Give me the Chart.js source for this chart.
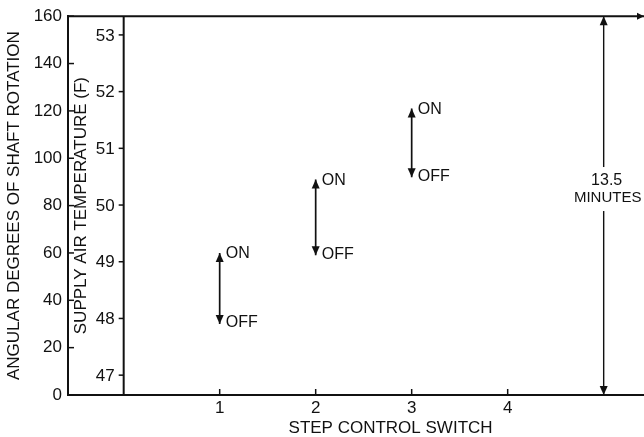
<!DOCTYPE html>
<html>
<head>
<meta charset="utf-8">
<script src="https://cdn.jsdelivr.net/npm/chart.js@4.4.1/dist/chart.umd.min.js"></script>
<style>
    html, body { margin: 0; padding: 0; background: #fff; }
</style>
</head>
<body>
<canvas id="chart" width="644" height="437"></canvas>
<script>
/* --- Values --- */
var steps = [1, 2, 3];
var onDegrees = [60, 91, 121];
var offDegrees = [30, 59, 92];
var stateLabels = ["ON", "OFF"];
var stepTicks = [1, 2, 3, 4];
var stepRange = [-0.58, 5.42];
var degreeRange = [0, 160];
var tempTicks = [47, 48, 49, 50, 51, 52, 53];
var tempRange = [46.65, 53.33];
var cycleStep = 5;
var cycleSpan = [160, 0];
var cycleLabel = ["13.5", "MINUTES"];
var cycleLabelAt = 87;
var stepTitleAt = 2.78;

var INK = "#111";
var FONT = "'Liberation Sans', Arial, sans-serif";

Chart.defaults.font.family = FONT;
Chart.defaults.color = INK;

/* --- Datasets: one vertical arrow per switch step, plus the cycle bracket --- */
var datasets = steps.map(function (s, i) {
    return {
        label: "step " + s,
        data: [{ x: s, y: onDegrees[i] }, { x: s, y: offDegrees[i] }],
        borderColor: INK,
        borderWidth: 1.7,
        pointRadius: 0,
        clip: false,
        yAxisID: "y"
    };
});
datasets.push({
    label: "cycle",
    data: [{ x: cycleStep, y: cycleSpan[0] }, { x: cycleStep, y: cycleSpan[1] }],
    borderColor: INK,
    borderWidth: 1.4,
    pointRadius: 0,
    clip: false,
    yAxisID: "y"
});

function line(ctx, x1, y1, x2, y2) {
    ctx.beginPath();
    ctx.moveTo(x1, y1);
    ctx.lineTo(x2, y2);
    ctx.stroke();
}

// filled arrowhead with its tip at (x, y); dir -1 points up, 1 points down
function head(ctx, x, y, dir) {
    ctx.beginPath();
    ctx.moveTo(x, y);
    ctx.lineTo(x - 4, y - dir * 9);
    ctx.lineTo(x + 4, y - dir * 9);
    ctx.closePath();
    ctx.fill();
}

/* --- Frame, inner temperature axis, arrowheads and text --- */
var overlay = {
    id: "overlay",
    afterDraw: function (chart) {
        var ctx = chart.ctx;
        var a = chart.chartArea;
        var xs = chart.scales.x, ys = chart.scales.y, ts = chart.scales.t;

        ctx.save();
        ctx.strokeStyle = INK;
        ctx.fillStyle = INK;
        ctx.lineWidth = 2;

        // top frame line with small arrow at its right end
        line(ctx, a.left, a.top, a.right, a.top);
        ctx.beginPath();
        ctx.moveTo(a.right, a.top);
        ctx.lineTo(a.right - 7, a.top - 3.5);
        ctx.lineTo(a.right - 7, a.top + 3.5);
        ctx.closePath();
        ctx.fill();

        // inward ticks on the degree axis
        ctx.lineWidth = 1.5;
        ys.ticks.forEach(function (t) {
            var y = ys.getPixelForValue(t.value);
            line(ctx, a.left, y, a.left + 6, y);
        });

        // upward ticks on the step axis
        stepTicks.forEach(function (v) {
            var x = xs.getPixelForValue(v);
            line(ctx, x, a.bottom, x, a.bottom - 6);
        });

        // supply air temperature axis at step 0
        var tx = xs.getPixelForValue(0);
        ctx.lineWidth = 2;
        line(ctx, tx, a.top, tx, a.bottom);
        ctx.lineWidth = 1.5;
        ctx.font = "17px " + FONT;
        ctx.textAlign = "right";
        ctx.textBaseline = "middle";
        tempTicks.forEach(function (v) {
            var y = ts.getPixelForValue(v);
            line(ctx, tx - 5, y, tx, y);
            ctx.fillText(String(v), tx - 9, y + 1);
        });

        ctx.save();
        ctx.translate(tx - 42, (a.top + a.bottom) / 2);
        ctx.rotate(-Math.PI / 2);
        ctx.textAlign = "center";
        ctx.fillText("SUPPLY AIR TEMPERATURE (F)", 0, 0);
        ctx.restore();

        // step axis title
        ctx.textAlign = "center";
        ctx.fillText("STEP CONTROL SWITCH", xs.getPixelForValue(stepTitleAt), 428);

        // arrowheads on every dataset
        chart.data.datasets.forEach(function (ds, i) {
            var pts = chart.getDatasetMeta(i).data;
            head(ctx, pts[0].x, pts[0].y, -1);
            head(ctx, pts[1].x, pts[1].y, 1);
        });

        // ON / OFF labels beside the step arrows
        ctx.font = "16px " + FONT;
        ctx.textAlign = "left";
        steps.forEach(function (s, i) {
            var pts = chart.getDatasetMeta(i).data;
            ctx.fillText(stateLabels[0], pts[0].x + 6, pts[0].y + 1);
            ctx.fillText(stateLabels[1], pts[1].x + 6, pts[1].y - 1);
        });

        // cycle duration label, breaking the bracket line
        var cx = xs.getPixelForValue(cycleStep);
        var cy = ys.getPixelForValue(cycleLabelAt);
        ctx.fillStyle = "#fff";
        ctx.fillRect(cx - 4, cy - 22, 8, 44);
        ctx.fillStyle = INK;
        ctx.textAlign = "center";
        ctx.font = "16px " + FONT;
        ctx.fillText(cycleLabel[0], cx + 3, cy - 8);
        ctx.font = "15px " + FONT;
        ctx.fillText(cycleLabel[1], cx + 4, cy + 9);

        ctx.restore();
    }
};

new Chart(document.getElementById("chart"), {
    type: "line",
    data: { datasets: datasets },
    options: {
        responsive: false,
        animation: false,
        devicePixelRatio: 1,
        layout: { padding: { top: 15, right: 0, bottom: 0, left: 0 } },
        plugins: {
            legend: { display: false },
            tooltip: { enabled: false }
        },
        scales: {
            x: {
                type: "linear",
                position: "bottom",
                min: stepRange[0],
                max: stepRange[1],
                afterBuildTicks: function (s) {
                    s.ticks = stepTicks.map(function (v) { return { value: v }; });
                },
                afterFit: function (s) { s.height = 42; },
                ticks: { font: { size: 17 }, padding: 3, color: INK },
                grid: { drawOnChartArea: false, drawTicks: false },
                border: { display: true, color: INK, width: 2 }
            },
            y: {
                type: "linear",
                position: "left",
                min: degreeRange[0],
                max: degreeRange[1],
                weight: 1,
                afterFit: function (s) { s.width = 68; },
                ticks: { stepSize: 20, font: { size: 17 }, padding: 6, color: INK },
                grid: { drawOnChartArea: false, drawTicks: false },
                border: { display: true, color: INK, width: 2 },
                title: {
                    display: true,
                    text: "ANGULAR DEGREES OF SHAFT ROTATION",
                    font: { size: 17 },
                    color: INK,
                    padding: { top: 4, bottom: 0 }
                }
            },
            t: {
                type: "linear",
                axis: "y",
                position: "left",
                display: false,
                min: tempRange[0],
                max: tempRange[1]
            }
        }
    },
    plugins: [overlay]
});
</script>
</body>
</html>
